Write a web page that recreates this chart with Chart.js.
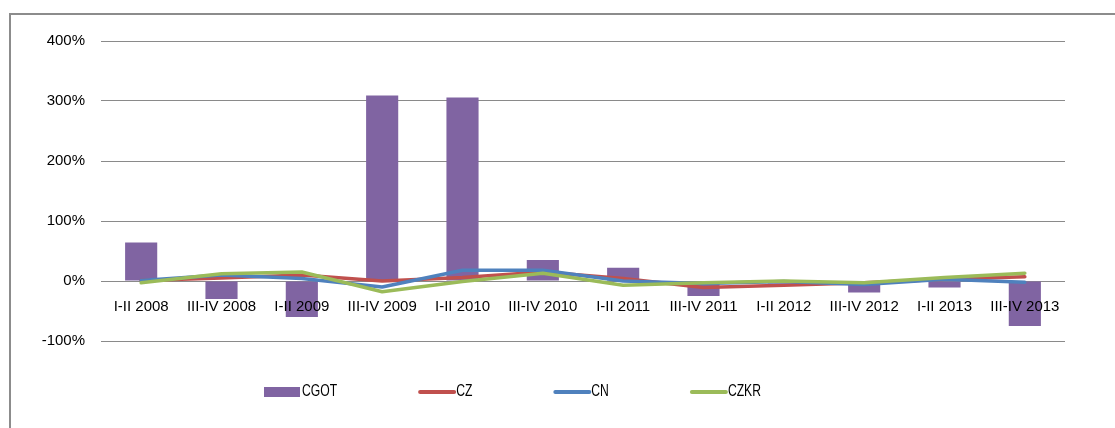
<!DOCTYPE html>
<html>
<head>
<meta charset="utf-8">
<title>CGOT / CZ / CN / CZKR</title>
<script src="https://cdn.jsdelivr.net/npm/chart.js@4/dist/chart.umd.min.js"></script>
<style>
    body { margin: 0; background: #fff; }
    #wrap { position: relative; width: 1115px; height: 428px; overflow: hidden; }
    #frame {
        position: absolute; left: 9px; top: 13px; width: 1200px; height: 500px;
        border-top: 2px solid #8c8c8c; border-left: 2px solid #8c8c8c;
    }
    canvas { position: absolute; left: 0; top: 0; }
</style>
</head>
<body>
<div id="wrap">
    <div id="frame"></div>
    <canvas id="growth-chart" width="1115" height="428"></canvas>
</div>
<script>
// Half-year periods
const periods = ['I-II 2008', 'III-IV 2008', 'I-II 2009', 'III-IV 2009', 'I-II 2010', 'III-IV 2010',
    'I-II 2011', 'III-IV 2011', 'I-II 2012', 'III-IV 2012', 'I-II 2013', 'III-IV 2013'];

// Change, in percent
const cgotValues = [64, -30, -60, 309, 306, 35, 22, -25, -4, -19, -11, -75];
const czValues = [1, 5, 10, 0, 6, 15, 4, -11, -7, -3, 3, 7];
const cnValues = [1, 10, 4, -10, 18, 18, 0, -4, -1, -6, 3, -2];
const czkrValues = [-3, 12, 15, -18, -1, 13, -7, -3, 0, -3, 6, 13];

const yTicks = [-100, 0, 100, 200, 300, 400];

const FONT = "'Liberation Sans', Arial, sans-serif";

// Legend drawn along the bottom, bar swatch for columns, thick stroke for lines.
// Labels are squeezed horizontally to get a narrow face.
const bottomLegend = {
    id: 'bottomLegend',
    afterDraw(chart) {
        const ctx = chart.ctx;
        const y = 392;
        const squeeze = 0.76;
        let x = 264;
        ctx.save();
        ctx.font = '16px ' + FONT;
        ctx.textBaseline = 'middle';
        chart.data.datasets.forEach(ds => {
            if (ds.type === 'bar') {
                ctx.fillStyle = ds.backgroundColor;
                ctx.fillRect(x, y - 5, 36, 10);
            } else {
                ctx.strokeStyle = ds.borderColor;
                ctx.lineWidth = 4;
                ctx.lineCap = 'round';
                ctx.beginPath();
                ctx.moveTo(x + 2, y);
                ctx.lineTo(x + 36, y);
                ctx.stroke();
            }
            const textX = x + 38;
            ctx.save();
            ctx.translate(textX, y);
            ctx.scale(squeeze, 1);
            ctx.fillStyle = '#000';
            ctx.fillText(ds.label, 0, 0);
            ctx.restore();
            x = textX + ctx.measureText(ds.label).width * squeeze + 81;
        });
        ctx.restore();
    }
};

function lineSet(label, data, color, order) {
    return {
        type: 'line',
        label: label,
        data: data,
        borderColor: color,
        backgroundColor: color,
        borderWidth: 3.5,
        pointRadius: 0,
        tension: 0,
        borderJoinStyle: 'round',
        borderCapStyle: 'round',
        order: order
    };
}

const ctx = document.getElementById('growth-chart').getContext('2d');
new Chart(ctx, {
    data: {
        labels: periods,
        datasets: [
            {
                type: 'bar',
                label: 'CGOT',
                data: cgotValues,
                backgroundColor: '#8064A2',
                categoryPercentage: 0.8,
                barPercentage: 0.5,
                order: 4
            },
            lineSet('CZ', czValues, '#C0504D', 3),
            lineSet('CN', cnValues, '#4F81BD', 2),
            lineSet('CZKR', czkrValues, '#9BBB59', 1)
        ]
    },
    options: {
        responsive: false,
        animation: false,
        layout: { padding: { left: 0, right: 50, top: 41, bottom: 87 } },
        plugins: {
            legend: { display: false },
            tooltip: { enabled: false }
        },
        scales: {
            x: {
                position: { y: 0 },
                offset: true,
                grid: { display: false, drawTicks: false },
                border: { display: false },
                ticks: {
                    z: 1,
                    color: '#000',
                    font: { family: FONT, size: 15 },
                    padding: 17,
                    maxRotation: 0,
                    autoSkip: false
                }
            },
            y: {
                min: -100,
                max: 400,
                afterFit(scale) { scale.width = 101; },
                afterBuildTicks(scale) { scale.ticks = yTicks.map(v => ({ value: v })); },
                grid: { color: '#8a8a8a', lineWidth: 1, drawTicks: false },
                border: { display: false },
                ticks: {
                    color: '#000',
                    font: { family: FONT, size: 15 },
                    padding: 16,
                    callback: v => v + '%'
                }
            }
        }
    },
    plugins: [bottomLegend]
});
</script>
</body>
</html>
